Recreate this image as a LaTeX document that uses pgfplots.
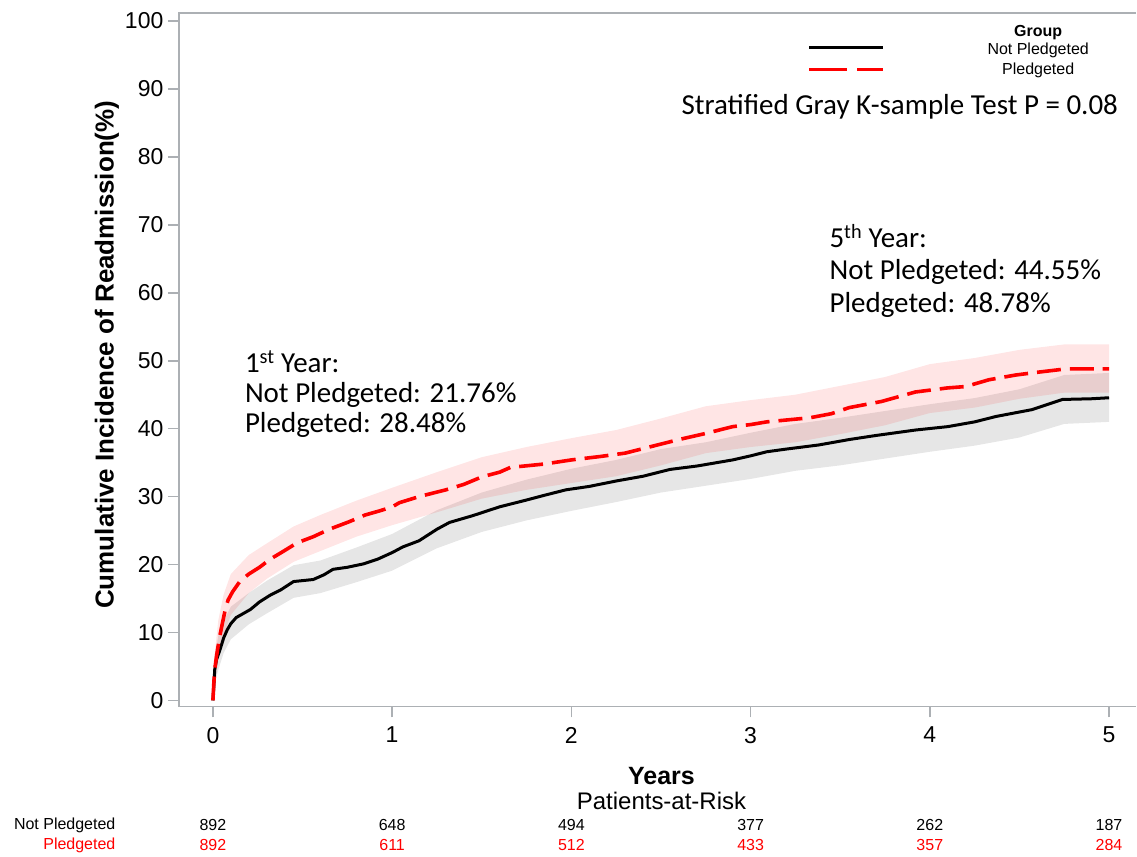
\documentclass[border=0pt]{standalone}
\usepackage{pgfplots}
\usepackage{pgfplotstable}
\pgfplotsset{compat=1.18}
\usepgfplotslibrary{fillbetween}
\usepackage{fontspec}
\setmainfont{Liberation Sans}
\newfontfamily\calib{Carlito}
\definecolor{axgray}{RGB}{172,176,180}
\definecolor{bandgray}{RGB}{230,230,230}

\pgfplotstableread{
t est
0 0
0.005 2
0.01 4.5
0.02 6
0.04 7.5
0.06 9.2
0.08 10.4
0.1 11.3
0.13 12.2
0.17 12.8
0.21 13.4
0.26 14.5
0.32 15.5
0.38 16.3
0.45 17.5
0.56 17.8
0.62 18.5
0.67 19.3
0.75 19.6
0.84 20.1
0.92 20.8
1.0 21.76
1.06 22.6
1.15 23.5
1.25 25.2
1.32 26.2
1.45 27.2
1.6 28.5
1.75 29.5
1.85 30.2
1.97 31
2.1 31.5
2.25 32.3
2.4 33
2.55 34
2.7 34.5
2.9 35.4
3.0 36
3.09 36.6
3.2 37
3.38 37.6
3.55 38.4
3.7 39
3.92 39.8
4.1 40.3
4.25 41
4.37 41.8
4.57 42.8
4.65 43.5
4.74 44.3
4.9 44.4
5.0 44.55
}\notpl

\pgfplotstableread{
t est
0 0
0.005 2.5
0.01 4.5
0.02 6.5
0.035 9
0.05 11
0.07 13.5
0.085 14.8
0.11 16
0.15 17.5
0.2 18.6
0.26 19.6
0.32 20.8
0.39 21.9
0.47 23.2
0.56 24.1
0.65 25.2
0.76 26.3
0.85 27.3
0.93 27.9
1.0 28.48
1.04 29.1
1.15 30
1.3 31
1.4 31.8
1.5 32.9
1.6 33.6
1.66 34.3
1.85 34.8
2.0 35.4
2.16 35.9
2.3 36.4
2.42 37.2
2.6 38.4
2.75 39.3
2.9 40.3
3.0 40.6
3.09 41
3.33 41.6
3.45 42.2
3.55 43.1
3.73 44
3.92 45.4
4.1 46
4.2 46.2
4.33 47.2
4.48 47.9
4.6 48.3
4.76 48.8
5.0 48.8
}\pl

\pgfplotstableread{
t lo hi
0 0 0
0.01 2.5 6.5
0.03 4.5 9.5
0.06 7 11.7
0.1 9 13.8
0.2 11.2 15.8
0.3 12.8 17.6
0.45 15.1 19.9
0.6 15.8 20.6
0.8 17.4 22.5
1.0 19.1 24.5
1.25 22.4 28.0
1.5 24.8 30.6
1.75 26.5 32.5
2.0 27.9 34.1
2.25 29.2 35.4
2.5 30.6 37.0
2.75 31.6 38.0
3.0 32.6 39.4
3.25 33.8 40.7
3.5 34.6 41.6
3.75 35.6 42.6
4.0 36.6 43.6
4.25 37.5 44.5
4.5 38.7 45.8
4.75 40.7 47.9
5.0 41.0 48.2
}\notplband

\pgfplotstableread{
t lo hi
0 0 0
0.01 2.5 6.8
0.03 6 11.8
0.06 9.6 15.6
0.1 12.6 18.6
0.2 15.8 21.4
0.3 17.9 23.1
0.45 20.4 25.6
0.6 22.0 27.3
0.8 24.1 29.4
1.0 25.8 31.3
1.25 27.7 33.6
1.5 29.7 35.8
1.75 31.0 37.3
2.0 32.0 38.6
2.25 33.0 39.8
2.5 34.6 41.5
2.75 36.4 43.3
3.0 37.3 44.2
3.25 38.0 45.0
3.5 39.2 46.3
3.75 40.5 47.6
4.0 42.3 49.5
4.25 43.1 50.4
4.5 44.4 51.6
4.75 45.3 52.4
5.0 45.3 52.4
}\plband

\begin{document}
\begin{tikzpicture}
\begin{axis}[
  name=ax,
  scale only axis,
  width=958pt, height=694pt,
  xmin=-0.19, xmax=5.151,
  ymin=-0.882, ymax=101.18,
  axis line style={draw=none},
  clip=false,
  xtick={0,1,2,3,4,5},
  ytick={0,10,...,100},
  xtick pos=bottom, ytick pos=left,
  tick align=outside,
  major tick length=11pt,
  tick style={draw=axgray, line width=1.6pt},
  minor tick num=0,
  /pgf/number format/assume math mode=true,
  ticklabel style={font=\fontsize{23}{23}\selectfont},
  xticklabel style={yshift=-6pt},
  yticklabel style={xshift=-1pt},
]
\addplot[name path=bhi, draw=none] table[x=t,y=hi]{\notplband};
\addplot[name path=blo, draw=none] table[x=t,y=lo]{\notplband};
\addplot[name path=rhi, draw=none] table[x=t,y=hi]{\plband};
\addplot[name path=rlo, draw=none] table[x=t,y=lo]{\plband};
\addplot[fill=bandgray, draw=none] fill between[of=bhi and blo];
\addplot[fill=red, fill opacity=0.1, draw=none] fill between[of=rhi and rlo];

\addplot[black, line width=3pt] table[x=t,y=est]{\notpl};
\addplot[red, line width=3.6pt, dash pattern=on 24pt off 9pt] table[x=t,y=est]{\pl};

\draw[axgray, line width=1.8pt] (rel axis cs:1,1) -- (rel axis cs:0,1) -- (rel axis cs:0,0) -- (rel axis cs:1,0);

% legend
\draw[black, line width=3pt] ([xshift=631pt,yshift=659pt]rel axis cs:0,0) -- ([xshift=705pt,yshift=659pt]rel axis cs:0,0);
\draw[red, line width=3pt, dash pattern=on 38pt off 10pt] ([xshift=631pt,yshift=637pt]rel axis cs:0,0) -- ([xshift=705pt,yshift=637pt]rel axis cs:0,0);
\node[font=\bfseries\fontsize{16}{16}\selectfont] at ([xshift=860pt,yshift=674pt]rel axis cs:0,0) {Group};
\node[font=\fontsize{16}{16}\selectfont] at ([xshift=860pt,yshift=657pt]rel axis cs:0,0) {Not Pledgeted};
\node[font=\fontsize{16}{16}\selectfont] at ([xshift=860pt,yshift=637pt]rel axis cs:0,0) {Pledgeted};

% annotations
\node[font=\calib\fontsize{29}{29}\selectfont, anchor=base east, inner sep=0pt] at ([xshift=940pt,yshift=592pt]rel axis cs:0,0) {Stratified Gray K-sample Test P = 0.08};
\node[font=\calib\fontsize{29}{29}\selectfont, anchor=base west, inner sep=0pt] at ([xshift=66pt,yshift=334pt]rel axis cs:0,0) {1\textsuperscript{st} Year:};
\node[font=\calib\fontsize{29}{29}\selectfont, anchor=base west, inner sep=0pt] at ([xshift=66pt,yshift=304pt]rel axis cs:0,0) {Not Pledgeted: 21.76\%};
\node[font=\calib\fontsize{29}{29}\selectfont, anchor=base west, inner sep=0pt] at ([xshift=66pt,yshift=274pt]rel axis cs:0,0) {Pledgeted: 28.48\%};
\node[font=\calib\fontsize{29}{29}\selectfont, anchor=base west, inner sep=0pt] at ([xshift=651pt,yshift=459pt]rel axis cs:0,0) {5\textsuperscript{th} Year:};
\node[font=\calib\fontsize{29}{29}\selectfont, anchor=base west, inner sep=0pt] at ([xshift=651pt,yshift=427pt]rel axis cs:0,0) {Not Pledgeted: 44.55\%};
\node[font=\calib\fontsize{29}{29}\selectfont, anchor=base west, inner sep=0pt] at ([xshift=651pt,yshift=394pt]rel axis cs:0,0) {Pledgeted: 48.78\%};

% axis labels
\node[font=\bfseries\fontsize{26}{26}\selectfont, rotate=90] at ([xshift=-72pt,yshift=352pt]rel axis cs:0,0) {Cumulative Incidence of Readmission(\%)};
\node[font=\bfseries\fontsize{25}{25}\selectfont] at ([xshift=483pt,yshift=-70pt]rel axis cs:0,0) {Years};
\node[font=\fontsize{24}{24}\selectfont] at ([xshift=483pt,yshift=-95pt]rel axis cs:0,0) {Patients-at-Risk};

% patients at risk table
\node[font=\fontsize{16}{16}\selectfont, anchor=east] at ([xshift=-60pt,yshift=-119pt]rel axis cs:0,0) {Not Pledgeted};
\node[font=\fontsize{16}{16}\selectfont, anchor=east, text=red] at ([xshift=-60pt,yshift=-139pt]rel axis cs:0,0) {Pledgeted};
\node[font=\fontsize{16}{16}\selectfont] at ([yshift=-119pt]axis cs:0,-0.882) {892};
\node[font=\fontsize{16}{16}\selectfont] at ([yshift=-119pt]axis cs:1,-0.882) {648};
\node[font=\fontsize{16}{16}\selectfont] at ([yshift=-119pt]axis cs:2,-0.882) {494};
\node[font=\fontsize{16}{16}\selectfont] at ([yshift=-119pt]axis cs:3,-0.882) {377};
\node[font=\fontsize{16}{16}\selectfont] at ([yshift=-119pt]axis cs:4,-0.882) {262};
\node[font=\fontsize{16}{16}\selectfont] at ([yshift=-119pt]axis cs:5,-0.882) {187};
\node[font=\fontsize{16}{16}\selectfont, text=red] at ([yshift=-139pt]axis cs:0,-0.882) {892};
\node[font=\fontsize{16}{16}\selectfont, text=red] at ([yshift=-139pt]axis cs:1,-0.882) {611};
\node[font=\fontsize{16}{16}\selectfont, text=red] at ([yshift=-139pt]axis cs:2,-0.882) {512};
\node[font=\fontsize{16}{16}\selectfont, text=red] at ([yshift=-139pt]axis cs:3,-0.882) {433};
\node[font=\fontsize{16}{16}\selectfont, text=red] at ([yshift=-139pt]axis cs:4,-0.882) {357};
\node[font=\fontsize{16}{16}\selectfont, text=red] at ([yshift=-139pt]axis cs:5,-0.882) {284};
\end{axis}
\path (ax.south west) ++(-179pt,-144pt) rectangle ++(1137pt,851pt);
\end{tikzpicture}
\end{document}
